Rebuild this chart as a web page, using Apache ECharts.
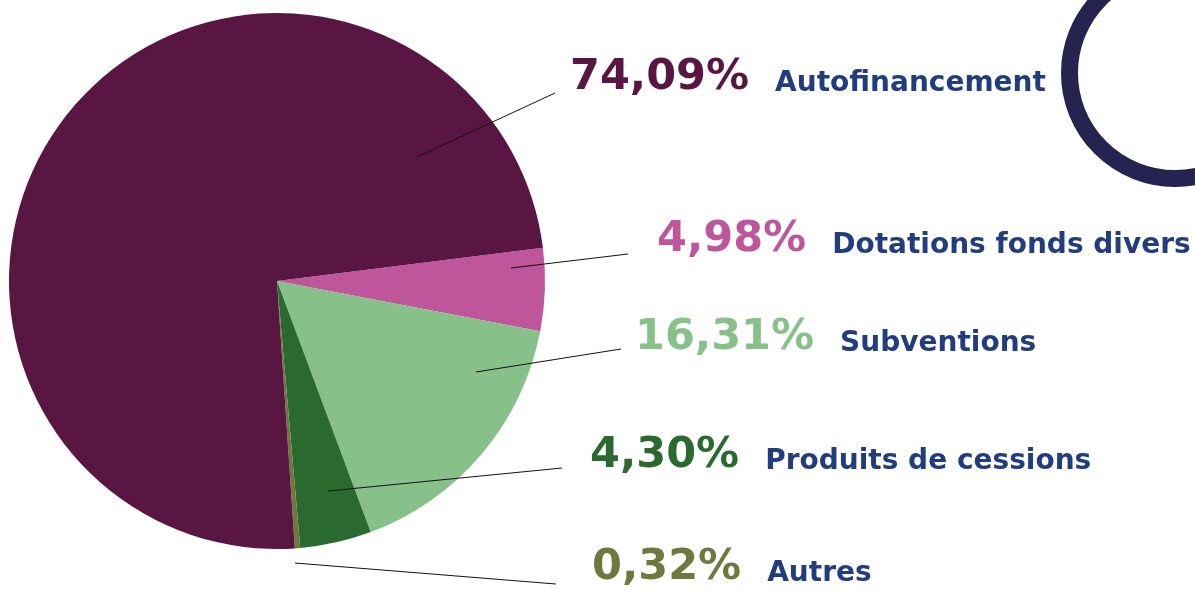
<!DOCTYPE html>
<html>
<head>
<meta charset="utf-8">
<style>
  html, body { margin: 0; padding: 0; background: #fff; }
  #chart { width: 1195px; height: 591px; }
</style>
<script src="https://cdn.jsdelivr.net/npm/echarts@6/dist/echarts.min.js"></script>
</head>
<body>
<div id="chart"></div>
<script>
// données (ordre de tracé dans le sens horaire à partir de 7°)
const categories = ['Dotations fonds divers', 'Subventions', 'Produits de cessions', 'Autres', 'Autofinancement']
const values = [4.98, 16.31, 4.30, 0.32, 74.09]
const percentLabels = ['4,98%', '16,31%', '4,30%', '0,32%', '74,09%']

// couleurs
const colors = ['#bf559b', '#88c08a', '#2a6a2e', '#6e7a3d', '#5a1642']
const nameColor = '#213d80'

// position des étiquettes (bord gauche, milieu) et traits de rappel
const labelPos = [[657, 240], [635, 338], [590, 456], [592, 568], [570, 78]]
const lineStart = [[511, 268], [476, 372], [328, 491], [295, 563], [417, 157]]
const lineEnd = [[628, 254], [621, 349], [562, 468], [556, 584], [555, 93]]

let myChart = echarts.init(document.getElementById('chart'))

let pieData = values.map((v, i) => ({
    name: categories[i],
    value: v,
    itemStyle: { color: colors[i] },
    label: {
        formatter: '{p|' + percentLabels[i] + '}{n|' + categories[i] + '}',
        rich: {
            p: { fontSize: 43, fontWeight: 'bold', color: colors[i], fontFamily: 'DejaVu Sans', verticalAlign: 'bottom' },
            n: { fontSize: 28, fontWeight: 'bold', color: nameColor, fontFamily: 'DejaVu Sans', verticalAlign: 'bottom', padding: [0, 0, 2, 26] }
        }
    }
}))

// traits de rappel au-dessus des secteurs
let leaderLines = lineStart.map((s, i) => ({
    type: 'line',
    z: 100,
    silent: true,
    shape: { x1: s[0], y1: s[1], x2: lineEnd[i][0], y2: lineEnd[i][1] },
    style: { stroke: '#111', lineWidth: 1 }
}))

myChart.setOption({
    animation: false,
    graphic: [{
        type: 'circle',
        shape: { cx: 1175, cy: 73, r: 105.5 },
        style: { fill: 'none', stroke: '#25234f', lineWidth: 17 }
    }].concat(leaderLines),
    series: [{
        type: 'pie',
        center: [277, 281],
        radius: 268,
        startAngle: 7.1,
        clockwise: true,
        avoidLabelOverlap: false,
        silent: true,
        data: pieData,
        label: { show: true, position: 'outside' },
        labelLine: { show: false },
        labelLayout: function (params) {
            let i = params.dataIndex
            return {
                x: labelPos[i][0],
                y: labelPos[i][1],
                align: 'left',
                verticalAlign: 'middle'
            }
        }
    }]
})
window.addEventListener('resize', myChart.resize)
</script>
</body>
</html>
